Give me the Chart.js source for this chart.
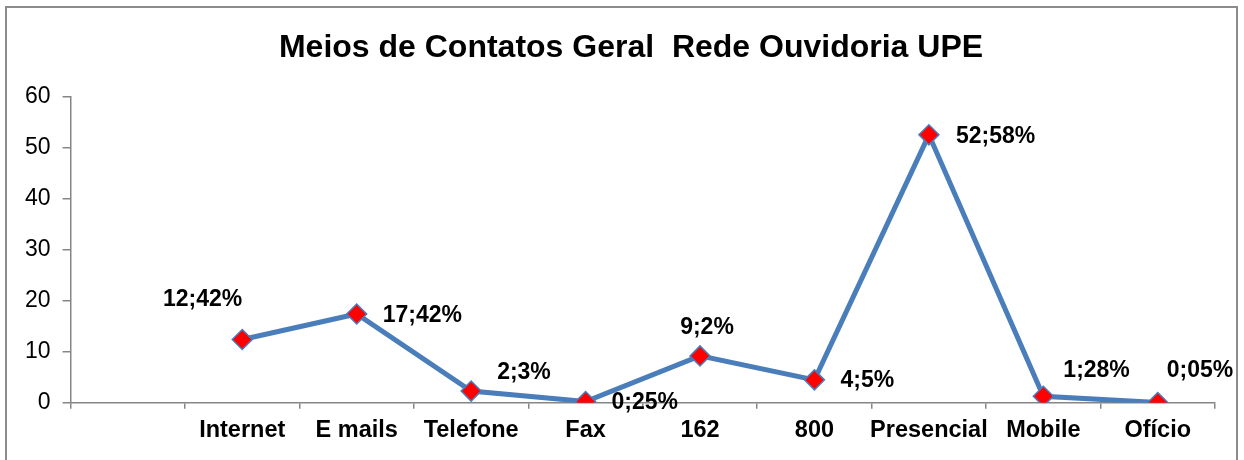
<!DOCTYPE html>
<html>
<head>
<meta charset="utf-8">
<title>Meios de Contatos Geral Rede Ouvidoria UPE</title>
<script src="https://cdn.jsdelivr.net/npm/chart.js@4/dist/chart.umd.min.js"></script>
<style>
  html, body { margin: 0; padding: 0; background: #fff; }
  #wrap { width: 1244px; height: 460px; }
</style>
</head>
<body>
<div id="wrap"><canvas id="contatosChart" width="1244" height="460"></canvas></div>
<script>
/* global Chart:false */

var chartTitle = "Meios de Contatos Geral  Rede Ouvidoria UPE";
// first category is left empty in the original sheet
var categories = ["", "Internet", "E mails", "Telefone", "Fax", "162", "800", "Presencial", "Mobile", "Ofício"];
var percentValues = [null, 12.42, 17.42, 2.3, 0.25, 9.2, 4.5, 52.58, 1.28, 0.05];
var yTicks = [0, 10, 20, 30, 40, 50, 60];

// where each value label sits next to its marker: [dx, dy, align]
var labelOffsets = [
  null,
  [0, -40, "right"],
  [26, 2, "left"],
  [26, -18, "left"],
  [26, 1, "left"],
  [7, -28, "center"],
  [26, 1, "left"],
  [27, 2, "left"],
  [20, -26, "left"],
  [9, -32, "left"],
];

var FONT = "'Liberation Sans', Arial, sans-serif";
var axisColor = "#868686";
var lineColor = "#4A7EBB";

function formatPercent(v) {
  return String(v).replace(".", ";") + "%";
}

var frameAndLabels = {
  id: "frameAndLabels",
  beforeDraw: function (chart) {
    var ctx = chart.ctx;
    ctx.save();
    ctx.fillStyle = "#ffffff";
    ctx.fillRect(0, 0, chart.width, chart.height);
    ctx.strokeStyle = "#8c8c8c";
    ctx.lineWidth = 2;
    ctx.strokeRect(6, 7, 1231, 470);
    ctx.fillStyle = "#000";
    ctx.font = "bold 32px " + FONT;
    ctx.textAlign = "center";
    ctx.textBaseline = "alphabetic";
    ctx.fillText(chartTitle, 631, 57);
    ctx.restore();
  },
  afterDatasetsDraw: function (chart) {
    var ctx = chart.ctx;
    var meta = chart.getDatasetMeta(0);
    ctx.save();
    ctx.fillStyle = "#000";
    ctx.font = "bold 23px " + FONT;
    ctx.textBaseline = "middle";
    meta.data.forEach(function (pt, i) {
      var v = percentValues[i];
      if (v === null || !labelOffsets[i]) return;
      var off = labelOffsets[i];
      ctx.textAlign = off[2];
      ctx.fillText(formatPercent(v), pt.x + off[0], pt.y + off[1]);
    });
    ctx.restore();
  },
};

var ctx = document.getElementById("contatosChart").getContext("2d");
new Chart(ctx, {
  type: "line",
  data: {
    labels: categories,
    datasets: [
      {
        label: "Meios de Contato",
        data: percentValues,
        borderColor: lineColor,
        borderWidth: 5,
        tension: 0,
        fill: false,
        pointStyle: "rectRot",
        pointRadius: 10,
        pointBackgroundColor: "#FF0000",
        pointBorderColor: lineColor,
        pointBorderWidth: 1.5,
      },
    ],
  },
  options: {
    responsive: false,
    animation: false,
    devicePixelRatio: 1,
    layout: {
      padding: { top: 97, left: 13, right: 29, bottom: 7 },
    },
    plugins: {
      legend: { display: false },
      title: { display: false },
      tooltip: { enabled: false },
    },
    scales: {
      x: {
        type: "category",
        offset: true,
        grid: {
          offset: true,
          drawOnChartArea: false,
          drawTicks: true,
          tickLength: 6,
          color: axisColor,
          lineWidth: 1.5,
        },
        border: { display: true, color: axisColor, width: 1.5 },
        ticks: {
          color: "#000",
          padding: 8,
          maxRotation: 0,
          autoSkip: false,
          font: { family: FONT, size: 23.5, weight: "bold" },
        },
      },
      y: {
        min: yTicks[0],
        max: yTicks[yTicks.length - 1],
        afterBuildTicks: function (scale) {
          scale.ticks = yTicks.map(function (v) {
            return { value: v };
          });
        },
        grid: {
          drawOnChartArea: false,
          drawTicks: true,
          tickLength: 8,
          color: axisColor,
          lineWidth: 1.5,
        },
        border: { display: true, color: axisColor, width: 1.5 },
        ticks: {
          color: "#000",
          padding: 12,
          font: { family: FONT, size: 23 },
        },
      },
    },
  },
  plugins: [frameAndLabels],
});
</script>
</body>
</html>
